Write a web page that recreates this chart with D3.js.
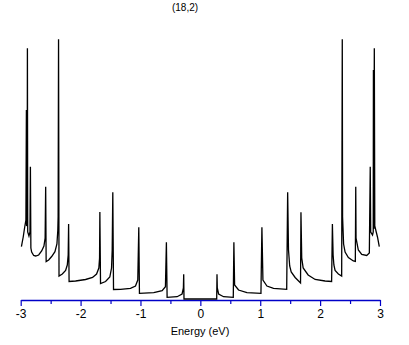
<!DOCTYPE html>
<html>
<head>
<meta charset="utf-8">
<script src="https://cdn.jsdelivr.net/npm/d3@7"></script>
<style>
  body { margin: 0; background: #fff; }
  svg { display: block; }
  text { font-family: "Liberation Sans", Arial, sans-serif; }
</style>
</head>
<body>
<svg id="chart" width="409" height="345"></svg>
<script>
// density of states, valence side (E < 0)
var energyNeg = [-2.988, -2.958, -2.933, -2.913, -2.905, -2.902, -2.892, -2.888, -2.883, -2.862,
  -2.845, -2.838, -2.83, -2.817, -2.783, -2.75, -2.7, -2.65, -2.612, -2.592,
  -2.583, -2.575, -2.533, -2.483, -2.428, -2.395, -2.38, -2.375, -2.368, -2.36,
  -2.305, -2.25, -2.222, -2.207, -2.2, -2.192, -2.083, -1.917, -1.8, -1.733,
  -1.695, -1.683, -1.678, -1.667, -1.583, -1.512, -1.483, -1.472, -1.462, -1.45,
  -1.333, -1.167, -1.083, -1.045, -1.028, -1.017, -0.778, -0.638, -0.583, -0.567,
  -0.555, -0.388, -0.305, -0.283, -0.278, -0.273];
var dosNeg = [5.23, 6.2, 7.2, 7.9, 18.9, 7.3, 7.5, 25.07, 6.7, 6.3,
  6.7, 13.23, 5.1, 4.7, 4.35, 4.3, 4.4, 4.8, 5.3, 6.1,
  11.23, 3.75, 3.9, 4.25, 4.73, 5.5, 6.9, 8.23, 25.97, 2.3,
  2.5, 2.85, 3.4, 4.4, 7.5, 1.75, 1.8, 1.95, 2.15, 2.5,
  3.1, 4.1, 8.7, 1.55, 1.75, 2.2, 3.1, 4.9, 10.67, 0.95,
  0.97, 1.07, 1.3, 1.9, 7.17, 0.57, 0.63, 0.83, 1.23, 5.67,
  0.17, 0.23, 0.5, 1.1, 2.47, 0];

// conduction side (E > 0)
var energyPos = [0.273, 0.278, 0.283, 0.305, 0.388, 0.55, 0.56, 0.572, 0.638, 0.778,
  1.012, 1.028, 1.045, 1.112, 1.222, 1.442, 1.458, 1.472, 1.492, 1.517,
  1.583, 1.673, 1.68, 1.693, 1.717, 1.8, 1.917, 2.083, 2.192, 2.205,
  2.217, 2.23, 2.25, 2.305, 2.36, 2.37, 2.375, 2.392, 2.417, 2.472,
  2.555, 2.588, 2.595, 2.6, 2.638, 2.695, 2.778, 2.822, 2.837, 2.845,
  2.875, 2.887, 2.89, 2.897, 2.905, 2.913, 2.933, 2.958, 2.988];
var dosPos = [0, 2.47, 1.1, 0.5, 0.23, 0.17, 5.67, 1.4, 0.9, 0.63,
  0.57, 7.17, 1.9, 1.3, 1.07, 0.97, 10.67, 4.9, 3.3, 2.7,
  2.15, 1.6, 8.67, 4.1, 3.1, 2.4, 1.95, 1.8, 1.75, 7.5,
  4.4, 3.4, 2.85, 2.5, 2.3, 25.97, 8.23, 5.5, 4.7, 4.15,
  3.8, 3.75, 11.23, 6.1, 4.9, 4.45, 4.35, 4.6, 13.23, 6.7,
  6.4, 6.7, 22.9, 7.0, 25.07, 7.3, 6.8, 6.2, 5.23];

var majorTicks = [-3, -2, -1, 0, 1, 2, 3];
var minorTicks = [-2.5, -1.5, -0.5, 0.5, 1.5, 2.5];

var svg = d3.select("#chart");

var x = d3.scaleLinear().domain([-3, 3]).range([20.7, 380]);
var y = d3.scaleLinear().domain([0, 26]).range([299, 39]);

// build the point list
var points = [];
energyNeg.forEach(function(e, i) { points.push([e, dosNeg[i]]); });
energyPos.forEach(function(e, i) { points.push([e, dosPos[i]]); });

// minor ticks (no labels)
svg.append("g")
  .attr("transform", "translate(0,300)")
  .call(d3.axisBottom(x).tickValues(minorTicks).tickSize(4).tickSizeOuter(0).tickFormat(""))
  .call(function(g) {
    g.select(".domain").remove();
    g.selectAll("line").attr("stroke", "#0000c8").attr("stroke-width", 1.2);
  });

// major ticks with labels
svg.append("g")
  .attr("transform", "translate(0,300)")
  .call(d3.axisBottom(x).tickValues(majorTicks).tickSize(6).tickSizeOuter(0)
    .tickFormat(function(d) { return d < 0 ? "-" + Math.abs(d) : String(d); }))
  .call(function(g) {
    g.select(".domain").attr("stroke", "#0000c8").attr("stroke-width", 1.3);
    g.selectAll("line").attr("stroke", "#0000c8").attr("stroke-width", 1.2);
    g.selectAll("text")
      .attr("fill", "#000")
      .attr("font-size", "12px")
      .attr("y", 9)
      .attr("dy", "0.71em");
  });

// DOS curve
var line = d3.line()
  .x(function(d) { return x(d[0]); })
  .y(function(d) { return y(d[1]); });

svg.append("path")
  .datum(points)
  .attr("d", line)
  .attr("fill", "none")
  .attr("stroke", "#000")
  .attr("stroke-width", 1.3)
  .attr("stroke-linejoin", "miter");

// title and axis label
svg.append("text")
  .attr("x", 185)
  .attr("y", 11)
  .attr("text-anchor", "middle")
  .attr("font-size", "10px")
  .text("(18,2)");

svg.append("text")
  .attr("x", 200)
  .attr("y", 335)
  .attr("text-anchor", "middle")
  .attr("font-size", "11px")
  .text("Energy (eV)");
</script>
</body>
</html>
